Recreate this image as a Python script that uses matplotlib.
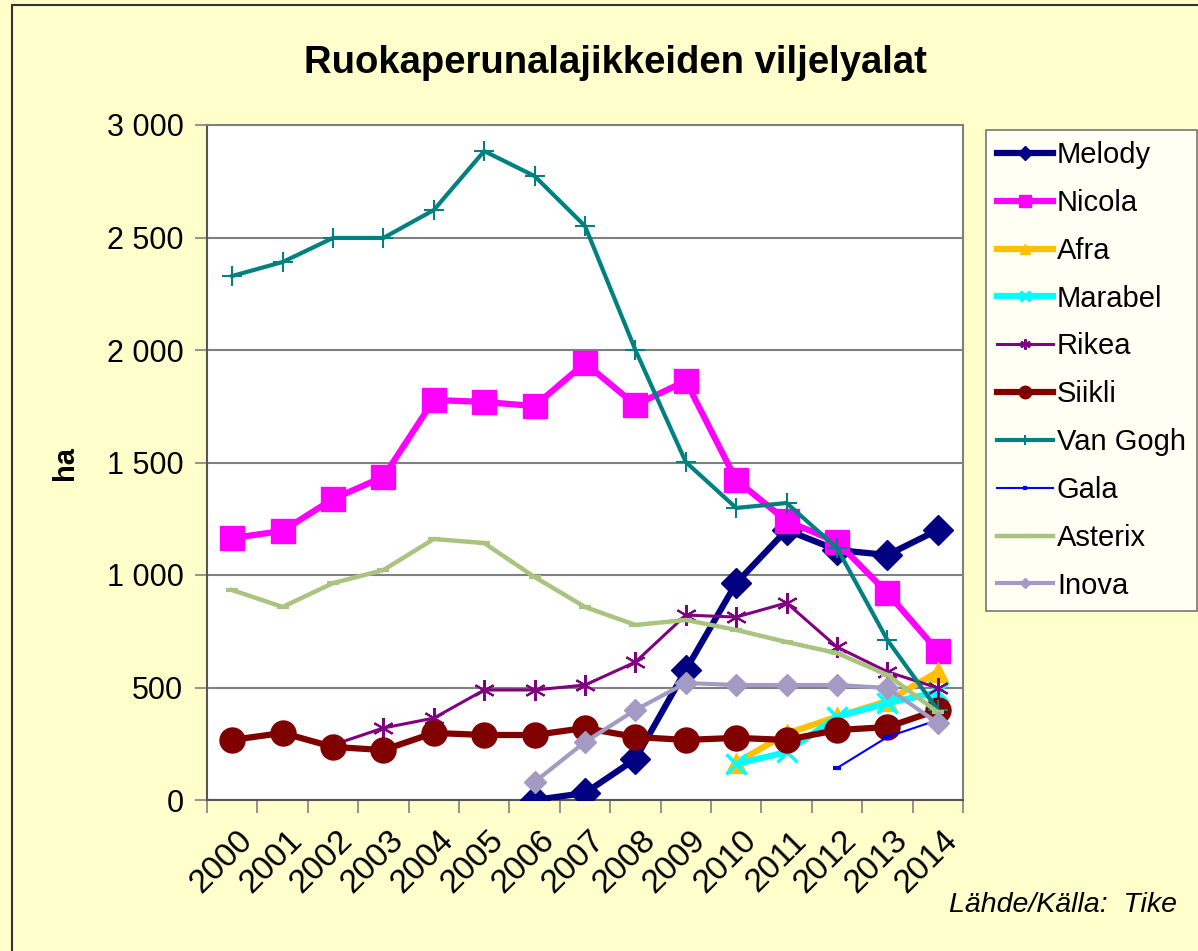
import matplotlib.pyplot as plt
from matplotlib.patches import Rectangle
from matplotlib.ticker import FuncFormatter, FixedLocator
import numpy as np

plt.rcParams['font.family'] = ['Liberation Sans', 'DejaVu Sans']

years = [str(y) for y in range(2000, 2015)]

# values in ha, None = no data
melody = [None, None, None, None, None, None, 0, 31, 182, 578, 964, 1200, 1111, 1089, 1200]
nicola = [1164, 1196, 1338, 1436, 1778, 1769, 1751, 1942, 1756, 1862, 1422, 1240, 1147, 920, 662]
afra = [None] * 10 + [165, 295, 370, 440, 570]
marabel = [None] * 10 + [160, 213, 370, 430, 480]
rikea = [None, None, 245, 320, 364, 489, 489, 511, 613, 822, 813, 876, 680, 570, 498]
siikli = [267, 298, 236, 222, 298, 289, 289, 320, 280, 267, 276, 267, 311, 324, 400]
van_gogh = [2329, 2391, 2498, 2498, 2622, 2884, 2773, 2551, 2000, 1502, 1298, 1320, 1120, 711, 400]
gala = [None] * 12 + [142, 280, 356]
asterix = [933, 858, 964, 1022, 1160, 1142, 991, 858, 778, 800, 756, 702, 653, 556, 390]
inova = [None] * 6 + [80, 258, 400, 520, 511, 511, 511, 498, 342]

series = [
    ("Melody", melody, dict(color="#000080", lw=4.5, marker="D", ms=15)),
    ("Nicola", nicola, dict(color="#FF00FF", lw=4.5, marker="s", ms=17)),
    ("Afra", afra, dict(color="#FFC000", lw=4.5, marker="^", ms=15)),
    ("Marabel", marabel, dict(color="#00FFFF", lw=4.5, marker="x", ms=14, mew=2.5)),
    ("Rikea", rikea, dict(color="#800080", lw=2.2, marker=(6, 2, 0), ms=15, mew=1.5)),
    ("Siikli", siikli, dict(color="#800000", lw=4.5, marker="o", ms=18)),
    ("Van Gogh", van_gogh, dict(color="#008080", lw=3, marker="+", ms=15, mew=1.5)),
    ("Gala", gala, dict(color="#0000FF", lw=1.5, marker="_", ms=6, mew=3)),
    ("Asterix", asterix, dict(color="#A9C47F", lw=3.2, marker="_", ms=8, mew=3)),
    ("Inova", inova, dict(color="#A39BC3", lw=3, marker="D", ms=11)),
]

fig = plt.figure(figsize=(11.98, 9.51), dpi=100)
fig.patch.set_facecolor("#FFFFCC")
fig.patches.append(Rectangle((12 / 1198, -0.05), 1.1, 1.05 - 5 / 951, transform=fig.transFigure,
                             fill=False, edgecolor="#333333", lw=1.5))

ax = fig.add_axes([207 / 1198, 1 - 800 / 951, 756 / 1198, 675 / 951])
ax.set_facecolor("white")

x = np.arange(len(years))
handles = []
for i, (name, vals, st) in enumerate(series):
    v = np.array([np.nan if a is None else a for a in vals], dtype=float)
    line, = ax.plot(x, v, label=name, zorder=3 + i, **st)
    handles.append(line)

ax.set_xlim(-0.5, len(years) - 0.5)
ax.set_ylim(0, 3000)
ax.set_yticks(np.arange(0, 3001, 500))
ax.yaxis.set_major_formatter(FuncFormatter(lambda v, p: f"{int(v):,}".replace(",", " ")))
ax.grid(axis="y", color="#808080", lw=1.5, zorder=1)
ax.set_axisbelow(True)

ax.xaxis.set_major_locator(FixedLocator(np.arange(-0.5, len(years), 1)))
ax.set_xticklabels([])
ax.xaxis.set_minor_locator(FixedLocator(x + 0.08))
ax.set_xticklabels(years, minor=True, rotation=45, ha="right", va="top", rotation_mode="anchor",
                   fontsize=24)
ax.tick_params(axis="x", which="minor", length=0, pad=18)
ax.tick_params(axis="x", which="major", length=9, width=1.2, color="#808080")
ax.tick_params(axis="y", length=9, width=1.2, color="#808080", labelsize=22, pad=8)
for s in ax.spines.values():
    s.set_color("#808080")
    s.set_linewidth(1.5)
ax.spines["left"].set_color("#555555")
ax.spines["bottom"].set_color("#555555")

ax.set_ylabel("ha", fontsize=21, fontweight="bold", labelpad=20)

fig.text(615 / 1198, 1 - 63 / 951, "Ruokaperunalajikkeiden viljelyalat", ha="center", va="center",
         fontsize=27.5, fontweight="bold")
fig.text(1177 / 1198, 1 - 905 / 951, "Lähde/Källa:  Tike", ha="right", va="center",
         fontsize=20.5, style="italic")

leg = fig.legend(handles=handles, loc="upper left", bbox_to_anchor=(986 / 1198, 1 - 130 / 951),
                 fontsize=21, frameon=True, fancybox=False, edgecolor="#555555",
                 handlelength=1.9, handletextpad=0.15, labelspacing=0.68, borderpad=0.38,
                 markerscale=0.5, borderaxespad=0)
leg.get_frame().set_linewidth(1.2)

fig.savefig("out.png", dpi=100, facecolor=fig.get_facecolor())
